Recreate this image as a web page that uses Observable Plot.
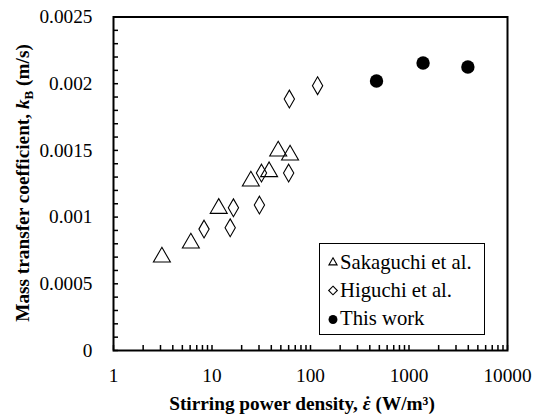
<!DOCTYPE html>
<html>
<head>
<meta charset="utf-8">
<script src="https://cdn.jsdelivr.net/npm/d3@7"></script>
<script src="https://cdn.jsdelivr.net/npm/@observablehq/plot@0.6"></script>
<style>
  html, body { margin: 0; padding: 0; background: #fff; }
  #wrap { position: relative; width: 540px; height: 418px; font-family: "Liberation Serif", "Times New Roman", serif; }
  #legend { position: absolute; left: 319px; top: 243px; width: 166px; height: 92px;
    border: 1px solid #000; background: #fff; box-sizing: border-box; font-size: 20.7px; }
  #legend .row { position: absolute; left: 7px; height: 28px; display: flex; align-items: center; white-space: nowrap; }
  #legend svg { margin-right: 1px; }
</style>
</head>
<body>
<div id="wrap"></div>
<script>
// ---- data ----
const sakaguchiX = [3.1, 6.1, 11.7, 24.8, 38, 47, 62];
const sakaguchiY = [0.000700, 0.000805, 0.001065, 0.001270, 0.001340, 0.001495, 0.001465];
const higuchiX = [8.3, 15.3, 16.5, 30.3, 31.8, 60, 61, 118];
const higuchiY = [0.000910, 0.000920, 0.001070, 0.001090, 0.001330, 0.001330, 0.001885, 0.001985];
const thisWorkX = [468, 1390, 3960];
const thisWorkY = [0.002020, 0.002155, 0.002125];
const xMajorTicks = [1, 10, 100, 1000, 10000];
const xTickLabels = ["1", "10", "100", "1000", "10000"];
const yMajorTicks = [0, 0.0005, 0.001, 0.0015, 0.002, 0.0025];
const yTickLabels = ["0", "0.0005", "0.001", "0.0015", "0.002", "0.0025"];
const seriesNames = ["Sakaguchi et al.", "Higuchi et al.", "This work"];

const toRows = (xs, ys) => xs.map((x, i) => ({x, y: ys[i]}));
const sak = toRows(sakaguchiX, sakaguchiY);
const hig = toRows(higuchiX, higuchiY);
const tw = toRows(thisWorkX, thisWorkY);

const xAllTicks = [];
for (let d = 1; d < 10000; d *= 10) for (let k = 1; k <= 9; k++) xAllTicks.push(d * k);
xAllTicks.push(10000);
const yAllTicks = d3.range(0, 26).map(i => i * 0.0001);

const FONT = "'Liberation Serif', 'Times New Roman', serif";

const chart = Plot.plot({
  width: 540, height: 418,
  marginLeft: 113, marginRight: 33, marginTop: 16.5, marginBottom: 68,
  x: {type: "log", domain: [1, 10000]},
  y: {domain: [0, 0.0025]},
  style: {fontFamily: FONT, fontSize: "19.3px", color: "black", background: "white", overflow: "visible"},
  marks: [
    Plot.axisX(xAllTicks, {tickSize: -5, tickFormat: () => "", label: null, strokeWidth: 1.5}),
    Plot.axisX(xMajorTicks, {tickSize: 0, tickPadding: 18, tickFormat: (d) => xTickLabels[xMajorTicks.indexOf(d)], label: null, fontFamily: FONT, fontSize: 19.3}),
    Plot.axisY(yAllTicks, {tickSize: -5, tickFormat: () => "", label: null, strokeWidth: 1.5}),
    Plot.axisY(yMajorTicks, {tickSize: 0, tickPadding: 21, tickFormat: (d) => yTickLabels[yMajorTicks.indexOf(d)], label: null, fontFamily: FONT, fontSize: 19.3}),
    Plot.frame({stroke: "black", strokeWidth: 2}),
    Plot.dot(sak, {x: "x", y: "y", symbol: "triangle", r: 6.3, stroke: "black", strokeWidth: 1.1, fill: "none"}),
    Plot.dot(hig, {x: "x", y: "y", symbol: "diamond", r: 5.4, stroke: "black", strokeWidth: 1.1, fill: "none"}),
    Plot.dot(tw, {x: "x", y: "y", symbol: "circle", r: 6.7, fill: "black", stroke: "none"})
  ]
});

const wrap = document.getElementById("wrap");
wrap.appendChild(chart);

const svg = d3.select(chart);
const yt = svg.append("text")
  .attr("transform", "translate(29,183) rotate(-90)")
  .attr("text-anchor", "middle").attr("font-weight", "bold")
  .attr("font-size", 19.3).attr("font-family", FONT).attr("fill", "black");
yt.append("tspan").text("Mass transfer coefficient, ");
yt.append("tspan").attr("font-style", "italic").text("k");
yt.append("tspan").attr("font-size", 13).attr("dy", 4).text("B");
yt.append("tspan").attr("dy", -4).text(" (m/s)");

const xt = svg.append("text")
  .attr("x", 302).attr("y", 410)
  .attr("text-anchor", "middle").attr("font-weight", "bold")
  .attr("font-size", 19.3).attr("font-family", FONT).attr("fill", "black");
const pre = "Stirring power density, ";
xt.append("tspan").text(pre);
xt.append("tspan").attr("font-style", "italic").text("\u03B5");
xt.append("tspan").text(" (W/m\u00B3)");
const x0 = xt.node().getStartPositionOfChar(pre.length).x;
const x1 = xt.node().getEndPositionOfChar(pre.length).x;
svg.append("text").attr("x", (x0 + x1) / 2 + 1).attr("y", 409)
  .attr("text-anchor", "middle").attr("font-weight", "bold")
  .attr("font-size", 19.3).attr("font-family", FONT).attr("fill", "black").text("\u02D9");

// legend
const legend = document.createElement("div");
legend.id = "legend";
const symbols = ["triangle", "diamond", "circle"];
const syms = {triangle: d3.symbolTriangle2, diamond: d3.symbolDiamond2, circle: d3.symbolCircle};
seriesNames.forEach((name, i) => {
  const row = document.createElement("div");
  row.className = "row";
  row.style.top = (4 + i * 28.3) + "px";
  const s = d3.create("svg").attr("width", 12).attr("height", 12);
  const filled = symbols[i] === "circle";
  s.append("path")
    .attr("transform", "translate(6,6.5)")
    .attr("d", d3.symbol(syms[symbols[i]], filled ? 62 : 48)())
    .attr("fill", filled ? "black" : "none").attr("stroke", filled ? "none" : "black").attr("stroke-width", 1.1);
  row.appendChild(s.node());
  const t = document.createElement("span");
  t.textContent = name;
  row.appendChild(t);
  legend.appendChild(row);
});
wrap.appendChild(legend);
</script>
</body>
</html>
